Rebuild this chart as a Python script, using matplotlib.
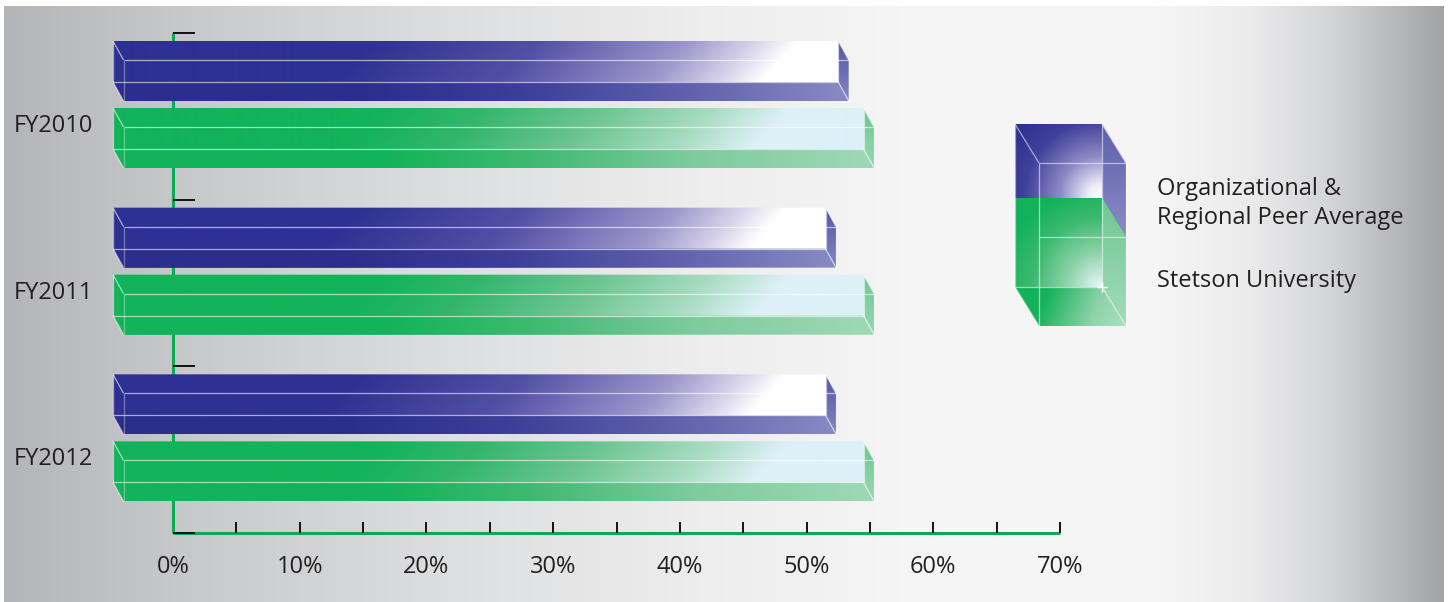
import numpy as np
import matplotlib
matplotlib.use("Agg")
import matplotlib.pyplot as plt
import matplotlib.colors as mcolors
from matplotlib.patches import Polygon

# ---------------------------------------------------------------- data
years = ["FY2010", "FY2011", "FY2012"]
peer_avg = [52.5, 51.5, 51.5]      # Organizational & Regional Peer Average (%)
stetson = [54.5, 54.5, 54.5]       # Stetson University (%)
x_ticks = [0, 10, 20, 30, 40, 50, 60, 70]
x_tick_labels = ["0%", "10%", "20%", "30%", "40%", "50%", "60%", "70%"]
legend_labels = ["Organizational &\nRegional Peer Average", "Stetson University"]

# ---------------------------------------------------------------- layout
W, H = 1450, 602
X0_PX, X70_PX = 173, 1060                 # pixel column of 0% and 70%
PX_PER_PCT = (X70_PX - X0_PX) / 70.0
Y_TOP_PX, Y_BOT_PX = 33, 533              # top and bottom of the value axis
PX_PER_ROW = (Y_BOT_PX - Y_TOP_PX) / 3.0

BAR_START = (113 - X0_PX) / PX_PER_PCT    # bars start a little left of 0
DX = 10.5 / PX_PER_PCT                    # box depth (x)
DY = 19.0 / PX_PER_ROW                    # box depth (y)
FACE_H = 41.0 / PX_PER_ROW                # face height
ROW_OFF = {"peer": 8.0 / PX_PER_ROW, "stetson": 75.0 / PX_PER_ROW}
SHEAR = 0.9

FONT = ["Open Sans", "DejaVu Sans"]
TXT = "#231F20"
AXIS_GREEN = "#0BAA55"

PALETTES = {
    "peer": {
        "face": [(0, "#FFFFFF"), (40, "#FFFFFF"), (80, "#D9D5EB"), (150, "#9C96CB"),
                 (300, "#5250A5"), (470, "#2E3192"), (3000, "#2E3192")],
        "bottom": [(0, "#8688C2"), (150, "#6062AC"), (320, "#3C3E98"),
                   (480, "#2B2E8C"), (3000, "#2B2E8C")],
        "side": ("#5255A6", "#8587C2"),
    },
    "stetson": {
        "face": [(0, "#DDF0F8"), (75, "#DDF0F7"), (150, "#A9DCC2"), (260, "#6DC591"),
                 (380, "#33B66C"), (480, "#12B35A"), (3000, "#12B35A")],
        "bottom": [(0, "#9DD8B5"), (170, "#7ECB9D"), (330, "#40B972"),
                   (480, "#12B35A"), (3000, "#12B35A")],
        "side": ("#6CC690", "#9BD7B3"),
    },
}


def ramp(d, stops):
    pos = np.array([s[0] for s in stops], dtype=float)
    cols = np.array([mcolors.to_rgb(s[1]) for s in stops])
    return np.stack([np.interp(d, pos, cols[:, k]) for k in range(3)], axis=-1)


def clipped_gradient(axis, poly, func, zorder, sx=1.0, sy=1.0):
    poly = np.asarray(poly, dtype=float)
    x0, x1 = poly[:, 0].min(), poly[:, 0].max()
    y0, y1 = poly[:, 1].min(), poly[:, 1].max()
    nx = max(int((x1 - x0) * sx) * 2, 4)
    ny = max(int((y1 - y0) * sy) * 2, 4)
    XX, YY = np.meshgrid(np.linspace(x0, x1, nx), np.linspace(y0, y1, ny))
    img = np.clip(func(XX, YY), 0, 1)
    im = axis.imshow(img, extent=(x0, x1, y1, y0), origin="upper", aspect="auto",
                     interpolation="bilinear", zorder=zorder)
    clip = Polygon(poly, closed=True, facecolor="none", edgecolor="none",
                   transform=axis.transData)
    axis.add_patch(clip)
    im.set_clip_path(clip)


def edge(axis, pts, zorder, alpha=0.6, lw=0.9):
    pts = np.asarray(pts, dtype=float)
    axis.plot(pts[:, 0], pts[:, 1], color="white", alpha=alpha, lw=lw,
              solid_capstyle="butt", zorder=zorder)


def draw_bar(axis, value, ytop, pal, z=3):
    x0, x1 = BAR_START, value
    yb = ytop + FACE_H
    outer = [(x0, ytop), (x1, ytop), (x1 + DX, ytop + DY), (x1 + DX, yb + DY),
             (x0 + DX, yb + DY), (x0, yb)]
    bottom = [(x0, yb), (x1, yb), (x1 + DX, yb + DY), (x0 + DX, yb + DY)]
    side = [(x1, ytop), (x1 + DX, ytop + DY), (x1 + DX, yb + DY), (x1, yb)]

    def face(X, Y):
        d = (x1 - X) * PX_PER_PCT - SHEAR * (Y - ytop) * PX_PER_ROW
        return ramp(d, pal["face"])

    def bot(X, Y):
        d = (x1 - X) * PX_PER_PCT
        return ramp(d, pal["bottom"])

    def sidef(X, Y):
        t = (Y - ytop) / (FACE_H + DY)
        return ramp(t, [(0, pal["side"][0]), (1, pal["side"][1])])

    clipped_gradient(axis, outer, face, z, PX_PER_PCT, PX_PER_ROW)
    clipped_gradient(axis, bottom, bot, z + 0.1, PX_PER_PCT, PX_PER_ROW)
    clipped_gradient(axis, side, sidef, z + 0.2, PX_PER_PCT, PX_PER_ROW)
    ze = z + 0.3
    edge(axis, [(x0, ytop), (x0, yb)], ze)
    edge(axis, [(x0, yb), (x1, yb)], ze)
    edge(axis, [(x1, ytop), (x1, yb)], ze)
    edge(axis, [(x0 + DX, ytop + DY), (x1 + DX, ytop + DY)], ze)
    edge(axis, [(x0 + DX, ytop + DY), (x0 + DX, yb + DY)], ze, alpha=0.35)
    edge(axis, [(x1 + DX, ytop + DY), (x1 + DX, yb + DY)], ze, alpha=0.45)
    edge(axis, [(x0, ytop), (x0 + DX, ytop + DY)], ze)
    edge(axis, [(x0, yb), (x0 + DX, yb + DY)], ze)
    edge(axis, [(x1, ytop), (x1 + DX, ytop + DY)], ze)
    edge(axis, [(x1, yb), (x1 + DX, yb + DY)], ze)


fig = plt.figure(figsize=(W / 100, H / 100), dpi=100, facecolor="white")

# ---------------------------------------------------------------- background panel (pixel coords)
bg = fig.add_axes([0, 0, 1, 1], zorder=0)
bg.axis("off")
bg_stops = [(4, "#B4B5B8"), (200, "#C9CACC"), (450, "#DDDEDF"), (700, "#EDEDEE"),
            (900, "#F5F5F5"), (1150, "#F6F6F6"), (1250, "#EBEBEC"), (1330, "#D4D5D7"),
            (1444, "#A2A3A5")]
xs = np.linspace(4, 1444, 1441)
grad = ramp(xs, bg_stops)[None, :, :]
bg.imshow(grad, extent=(4, 1444, 602, 6), origin="upper", aspect="auto",
          interpolation="bilinear")
bg.set_xlim(0, W)
bg.set_ylim(H, 0)

# ---------------------------------------------------------------- chart (percent / row units)
ax = fig.add_axes([0, 0, 1, 1], zorder=1)
ax.axis("off")

n = len(years)
# axes lines
ax.plot([0, 0], [0, n], color=AXIS_GREEN, lw=2.2, zorder=1, solid_capstyle="butt")
ax.plot([0, x_ticks[-1]], [n, n], color=AXIS_GREEN, lw=2.2, zorder=1,
        solid_capstyle="butt")
tick_len_y = 11 / PX_PER_ROW
for v in np.arange(5, x_ticks[-1] + 0.1, 5):
    ax.plot([v, v], [n - tick_len_y, n], color="#111111", lw=1.4, zorder=1.5,
            solid_capstyle="butt")
tick_len_x = 22 / PX_PER_PCT
for r in range(n + 1):
    ax.plot([0, tick_len_x], [r, r], color="#111111", lw=1.4, zorder=1.5,
            solid_capstyle="butt")

for v, lab in zip(x_ticks, x_tick_labels):
    ax.text(v, n + 40 / PX_PER_ROW, lab, ha="center", va="baseline", fontsize=17,
            family=FONT, color=TXT)

for i, yr in enumerate(years):
    draw_bar(ax, peer_avg[i], i + ROW_OFF["peer"], PALETTES["peer"], z=3)
    draw_bar(ax, stetson[i], i + ROW_OFF["stetson"], PALETTES["stetson"], z=4)
    ax.text(-80 / PX_PER_PCT, i + 99 / PX_PER_ROW, yr, ha="right", va="baseline",
            fontsize=17, family=FONT, color=TXT)

ax.set_xlim(-X0_PX / PX_PER_PCT, (W - X0_PX) / PX_PER_PCT)
ax.set_ylim((H - Y_TOP_PX) / PX_PER_ROW, -Y_TOP_PX / PX_PER_ROW)

# ---------------------------------------------------------------- legend cube (pixel coords)
lg = fig.add_axes([0, 0, 1, 1], zorder=2)
lg.axis("off")
L, R, T, B = 1015, 1102, 124, 287       # back rectangle
OX, OY = 24, 39                         # depth offset
SPLIT = 198

blue_main = [(L, T), (R, T), (R + OX, T + OY), (R + OX, SPLIT + OY), (R, SPLIT), (L, SPLIT)]
blue_side = [(R, T), (R + OX, T + OY), (R + OX, SPLIT + OY), (R, SPLIT)]
green_main = [(L, SPLIT), (R, SPLIT), (R + OX, SPLIT + OY), (R + OX, B + OY),
              (L + OX, B + OY), (L, B)]
green_bottom = [(L, B), (R, B), (R + OX, B + OY), (L + OX, B + OY)]
green_side = [(R, SPLIT), (R + OX, SPLIT + OY), (R + OX, B + OY), (R, B)]


def blue_leg(X, Y):
    d = np.hypot(X - (R - 2), Y - (SPLIT - 2))
    return ramp(d, [(0, "#FFFFFF"), (12, "#EDEBF6"), (40, "#8E8AC6"), (75, "#40419A"),
                    (105, "#2E3192"), (500, "#2E3192")])


def blue_leg_side(X, Y):
    t = (Y - T) / (SPLIT + OY - T)
    return ramp(t, [(0, "#5E60AC"), (1, "#8A8CC6")])


def green_leg(X, Y):
    d = np.hypot(X - R, Y - B)
    return ramp(d, [(0, "#EAF7FB"), (10, "#D0EDE6"), (35, "#8ED2AA"), (70, "#3DB970"),
                    (100, "#12B35A"), (500, "#12B35A")])


def green_leg_bottom(X, Y):
    d = (X - L) + 0.4 * (Y - B)
    return ramp(d, [(0, "#12B35A"), (35, "#16B35C"), (90, "#8ED2A9"), (120, "#A6DDBD")])


def green_leg_side(X, Y):
    t = (Y - SPLIT) / (B + OY - SPLIT)
    return ramp(t, [(0, "#6FC792"), (1, "#A3DBBA")])


clipped_gradient(lg, blue_main, blue_leg, 3)
clipped_gradient(lg, blue_side, blue_leg_side, 3.1)
clipped_gradient(lg, green_main, green_leg, 3.2)
clipped_gradient(lg, green_bottom, green_leg_bottom, 3.3)
clipped_gradient(lg, green_side, green_leg_side, 3.4)
for seg in [
    [(L, T), (L, B)], [(R, T), (R, B)], [(L, B), (R, B)],
    [(L + OX, T + OY), (R + OX, T + OY)], [(L + OX, T + OY), (L + OX, B + OY)],
    [(R + OX, T + OY), (R + OX, B + OY)], [(L + OX, SPLIT + OY), (R + OX, SPLIT + OY)],
    [(L, T), (L + OX, T + OY)], [(R, T), (R + OX, T + OY)],
    [(L, B), (L + OX, B + OY)], [(R, B), (R + OX, B + OY)],
]:
    edge(lg, seg, 4, alpha=0.55)
lg.plot([R], [B], marker="+", color="white", ms=7, mew=1.0, zorder=4.5)

# multi-line label: the baseline anchor applies to its last line
lg.text(1157, 224, legend_labels[0], ha="left", va="baseline", fontsize=17,
        family=FONT, color=TXT, linespacing=1.3)
lg.text(1157, 287, legend_labels[1], ha="left", va="baseline", fontsize=17,
        family=FONT, color=TXT)
lg.set_xlim(0, W)
lg.set_ylim(H, 0)

fig.savefig("out.png", dpi=100, facecolor="white")
